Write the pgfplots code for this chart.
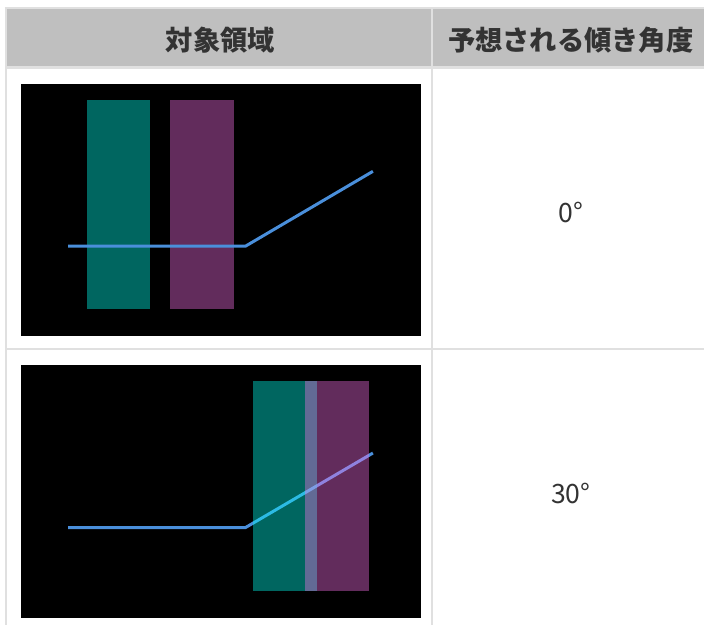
\documentclass[border=0pt]{standalone}
\usepackage{pgfplots}
\pgfplotsset{compat=1.18}
\usepackage{fontspec}
\setmainfont{Noto Sans CJK JP}
\definecolor{hdr}{HTML}{BFBFBF}
\definecolor{bord}{HTML}{E0E0E0}
\definecolor{txt}{HTML}{333333}
\definecolor{tealc}{RGB}{0,255,242}
\definecolor{purc}{RGB}{247,112,230}
\definecolor{linec}{HTML}{4A8FDB}
\pgfplotsset{
  panel/.style={
    scale only axis, width=300.75pt, height=189.75pt, anchor=north west,
    xmin=0, xmax=401, ymin=0, ymax=253, y dir=reverse, enlargelimits=false,
    ticks=none, axis line style={draw=none},
    axis background/.style={fill=black}, clip=true,
  }
}
\begin{document}
\begin{tikzpicture}[x=0.75pt,y=-0.75pt]
\fill[white] (0,0) rectangle (705,626);
% table
\fill[hdr] (7,9) rectangle (705,66);
\draw[bord, line width=1.5pt] (5,8) -- (705,8);
\draw[bord, line width=1.5pt] (6,8) -- (6,626);
\draw[bord, line width=2.25pt] (7,67.5) -- (705,67.5);
\draw[bord, line width=1.5pt] (433,8) -- (433,626);
\draw[bord, line width=1.5pt] (7,349.5) -- (705,349.5);
\node[txt, font=\fontsize{20.5pt}{24pt}\selectfont\bfseries] at (221,40) {対象領域};
\node[txt, font=\fontsize{20.5pt}{24pt}\selectfont\bfseries] at (572,40) {予想される傾き角度};
\node[txt, font=\fontsize{20pt}{24pt}\selectfont] at (572,213) {0°};
\node[txt, font=\fontsize{20pt}{24pt}\selectfont] at (572,495) {30°};
% panel 1
\begin{axis}[panel, at={(21,84)}]
\addplot[fill=tealc, fill opacity=0.4, draw=none] coordinates {(66.3,16.3) (129.7,16.3) (129.7,226) (66.3,226)};
\addplot[fill=purc, fill opacity=0.4, draw=none] coordinates {(149,16.3) (213.7,16.3) (213.7,226) (149,226)};
\addplot[linec, line width=2.25pt, line join=round] coordinates {(47.3,162.7) (225,162.7) (352.7,87.7)};
\end{axis}
% panel 2
\begin{axis}[panel, at={(21,366)}]
\addplot[linec, line width=2.25pt, line join=round] coordinates {(47.3,162.7) (225,162.7) (352.7,88)};
\addplot[fill=tealc, fill opacity=0.4, draw=none] coordinates {(233,16.3) (296.3,16.3) (296.3,226.3) (233,226.3)};
\addplot[fill=purc, fill opacity=0.4, draw=none] coordinates {(284.3,16.3) (349,16.3) (349,226.3) (284.3,226.3)};
\end{axis}
\end{tikzpicture}
\end{document}
